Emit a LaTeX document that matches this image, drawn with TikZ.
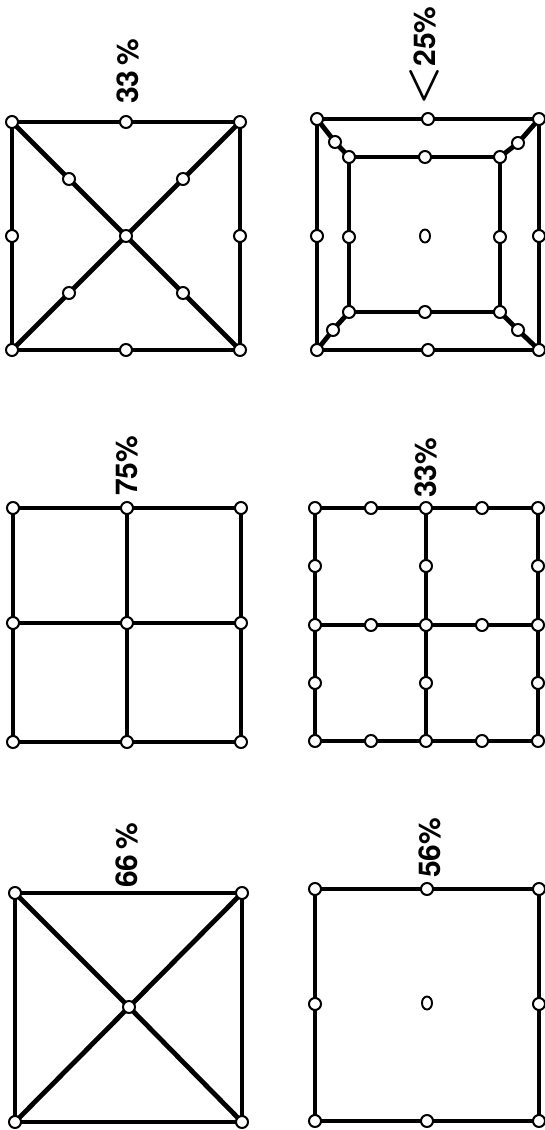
\documentclass[tikz,border=0pt]{standalone}
\usepackage{fix-cm}
\usepackage{fontspec}
\setmainfont{TeX Gyre Heros}
\usetikzlibrary{backgrounds,shapes.geometric}
\tikzset{
  pt/.style={circle, draw, fill=white, line width=2pt, minimum size=12pt, inner sep=0pt},
  opt/.style={ellipse, draw, fill=white, line width=1.9pt, minimum width=10pt, minimum height=13pt, inner sep=0pt},
  wire/.style={line width=4.8pt, line cap=round, line join=round},
  lbl/.style={rotate=90, anchor=west, inner sep=0pt, font=\fontsize{30}{30}\selectfont\bfseries},
}
\begin{document}
\begin{tikzpicture}[x=1pt,y=-1pt]
\useasboundingbox (0,0) rectangle (544,1130);
\begin{scope}[on background layer]
\fill[white] (0,0) rectangle (544,1130);
\end{scope}

% ---------- square A (33 %, diagonals with midpoints) ----------
\foreach \n/\x/\y in {tl/12/122, t/126/122, tr/240/122, l/12/236, c/126/236, r/240/236,
  bl/12/350, b/126/350, br/240/350, d1/69/179, d2/183/179, d3/69/293, d4/183/293}
  \node[pt] (a-\n) at (\x,\y) {};
\node[lbl] (la) at (128,104) {33\,\%};

% ---------- square B (<25 %, nested squares) ----------
\foreach \n/\x/\y in {otl/317/119, ot/428/119, otr/539/119, ol/317/236, or/539/236,
  obl/317/350, ob/428/350, obr/539/350,
  itl/349/157, it/425/157, itr/500/157, il/349/237, ir/500/237,
  ibl/349/312, ib/425/312, ibr/500/312,
  d1/335/142, d2/518/143, d3/333/330, d4/518/330}
  \node[pt] (b-\n) at (\x,\y) {};
\node[opt] (b-c) at (425,236) {};
\node[lbl] (lb) at (424,106) {{\fontsize{44}{44}\selectfont\boldmath$<$}25\%};

% ---------- square C (75 %, 2x2 grid) ----------
\foreach \n/\x/\y in {tl/13/508, t/127/508, tr/241/508, l/13/623, c/127/623, r/241/623,
  bl/13/742, b/127/742, br/241/742}
  \node[pt] (c-\n) at (\x,\y) {};
\node[lbl] (lc) at (127,496) {75\%};

% ---------- square D (33 %, 2x2 grid with quarter points) ----------
\foreach \i/\x in {0/315,1/371,2/426,3/482,4/538}
  \foreach \j/\y in {0/508,2/625,4/741}
    \node[pt] (d-\i-\j) at (\x,\y) {};
\foreach \i/\x in {0/315,2/426,4/538}
  \foreach \j/\y in {1/566,3/683}
    \node[pt] (d-\i-\j) at (\x,\y) {};
\node[lbl] (ld) at (426,498) {33\%};

% ---------- square E (66 %, diagonals) ----------
\foreach \n/\x/\y in {tl/15/893, tr/242/893, bl/15/1122, br/242/1122, c/129/1007}
  \node[pt] (e-\n) at (\x,\y) {};
\node[lbl] (le) at (127,888) {66\,\%};

% ---------- square F (56 %, plain square) ----------
\foreach \n/\x/\y in {tl/315/889, t/427/889, tr/539/889, l/315/1004, r/539/1004,
  bl/315/1121, b/427/1121, br/539/1121}
  \node[pt] (f-\n) at (\x,\y) {};
\node[opt] (f-c) at (427,1003) {};
\node[lbl] (lf) at (430,878) {56\%};

% ---------- connectors ----------
\begin{scope}[on background layer]
  % A
  \draw[wire] (a-tl.center) -- (a-t.center) -- (a-tr.center) -- (a-r.center) -- (a-br.center)
     -- (a-b.center) -- (a-bl.center) -- (a-l.center) -- cycle;
  \draw[wire] (a-tl.center) -- (a-d1.center) -- (a-c.center) -- (a-d4.center) -- (a-br.center);
  \draw[wire] (a-tr.center) -- (a-d2.center) -- (a-c.center) -- (a-d3.center) -- (a-bl.center);
  % B
  \draw[wire] (b-otl.center) -- (b-ot.center) -- (b-otr.center) -- (b-or.center) -- (b-obr.center)
     -- (b-ob.center) -- (b-obl.center) -- (b-ol.center) -- cycle;
  \draw[wire] (b-itl.center) -- (b-it.center) -- (b-itr.center) -- (b-ir.center) -- (b-ibr.center)
     -- (b-ib.center) -- (b-ibl.center) -- (b-il.center) -- cycle;
  \draw[wire] (b-otl.center) -- (b-d1.center) -- (b-itl.center);
  \draw[wire] (b-otr.center) -- (b-d2.center) -- (b-itr.center);
  \draw[wire] (b-obl.center) -- (b-d3.center) -- (b-ibl.center);
  \draw[wire] (b-obr.center) -- (b-d4.center) -- (b-ibr.center);
  % C
  \draw[wire] (c-tl.center) -- (c-t.center) -- (c-tr.center) -- (c-r.center) -- (c-br.center)
     -- (c-b.center) -- (c-bl.center) -- (c-l.center) -- cycle;
  \draw[wire] (c-t.center) -- (c-c.center) -- (c-b.center);
  \draw[wire] (c-l.center) -- (c-c.center) -- (c-r.center);
  % D
  \foreach \j in {0,2,4}
    \draw[wire] (d-0-\j.center) -- (d-1-\j.center) -- (d-2-\j.center) -- (d-3-\j.center) -- (d-4-\j.center);
  \foreach \i in {0,2,4}
    \draw[wire] (d-\i-0.center) -- (d-\i-1.center) -- (d-\i-2.center) -- (d-\i-3.center) -- (d-\i-4.center);
  % E
  \draw[wire] (e-tl.center) -- (e-tr.center) -- (e-br.center) -- (e-bl.center) -- cycle;
  \draw[wire] (e-tl.center) -- (e-c.center) -- (e-br.center);
  \draw[wire] (e-tr.center) -- (e-c.center) -- (e-bl.center);
  % F
  \draw[wire] (f-tl.center) -- (f-t.center) -- (f-tr.center) -- (f-r.center) -- (f-br.center)
     -- (f-b.center) -- (f-bl.center) -- (f-l.center) -- cycle;
\end{scope}
\end{tikzpicture}
\end{document}
